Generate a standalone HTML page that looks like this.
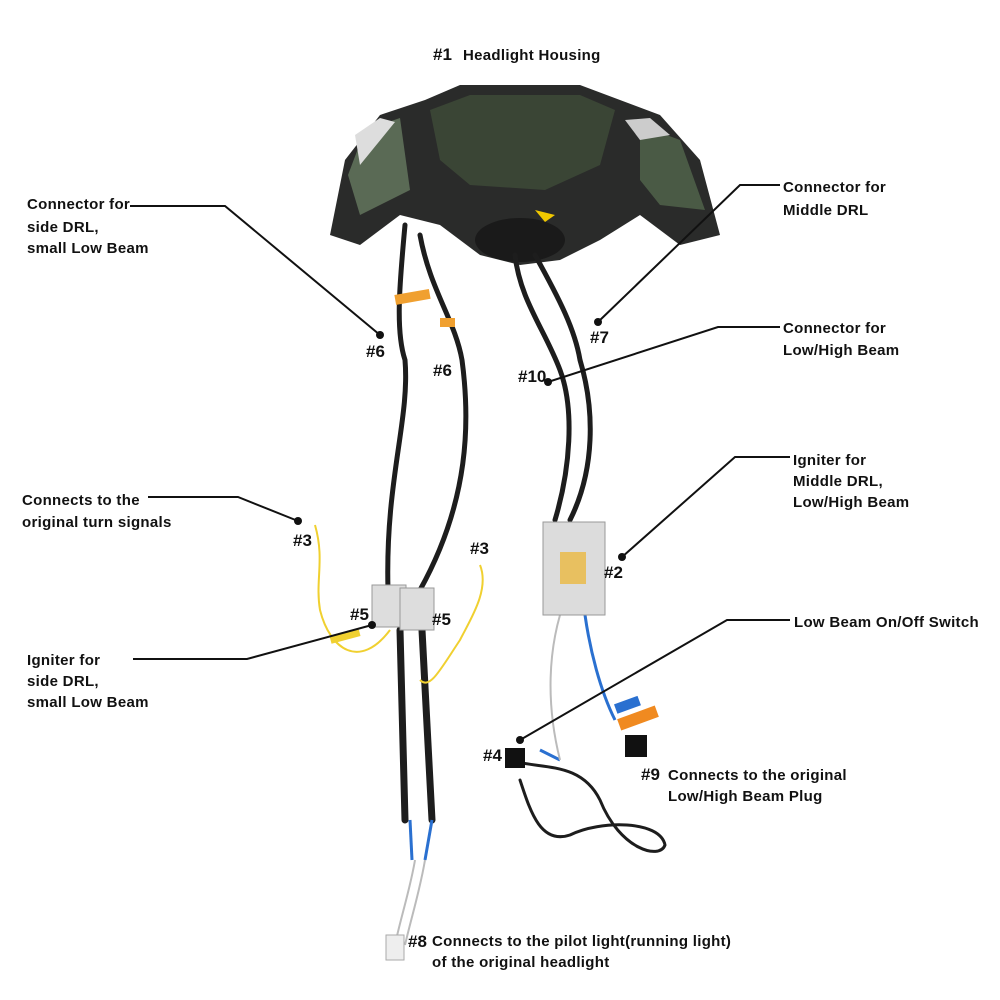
<!DOCTYPE html>
<html><head><meta charset="utf-8"><style>
html,body{margin:0;padding:0;background:#fff;}
svg{display:block;}
text{font-family:"Liberation Sans",Arial,sans-serif;font-weight:bold;fill:#111;font-size:15px;letter-spacing:0.3px;}
.n{font-size:17px;letter-spacing:0;}
</style></head><body>
<svg width="1000" height="1000" viewBox="0 0 1000 1000">
<!-- housing -->
<path d="M330 235 L345 160 L380 115 L425 100 L460 85 L580 85 L620 100 L660 115 L700 160 L720 235 L680 245 L640 215 L600 240 L560 260 L520 265 L480 255 L440 225 L400 215 L360 245 Z" fill="#2a2b2a"/>
<path d="M430 110 L470 95 L580 95 L615 110 L600 165 L545 190 L470 185 L440 160 Z" fill="#3a4535"/>
<path d="M348 175 L365 130 L400 118 L410 190 L360 215 Z" fill="#5a6a55"/>
<path d="M640 125 L680 140 L705 210 L660 205 L640 180 Z" fill="#4a5a45"/>
<path d="M355 135 L380 118 L395 122 L360 165 Z" fill="#ddd"/>
<path d="M625 120 L650 118 L670 135 L640 140 Z" fill="#ccc"/>
<ellipse cx="520" cy="240" rx="45" ry="22" fill="#1a1a1a"/>
<path d="M535 210 L555 215 L545 222 Z" fill="#f0c800"/>
<!-- wires -->
<g fill="none" stroke="#1d1d1d" stroke-width="5" stroke-linecap="round">
<path d="M405 225 C400 280 395 330 405 360 C410 420 385 480 388 590"/>
<path d="M420 235 C430 290 455 320 462 360 C470 420 470 500 420 590"/>
<path d="M515 255 C520 300 545 330 560 370 C575 410 570 470 555 520"/>
<path d="M535 255 C560 300 575 330 580 360 C595 410 595 470 570 520"/>
<path d="M400 630 L405 820" stroke-width="7"/>
<path d="M422 630 L432 820" stroke-width="7"/>
<path d="M510 760 C540 770 580 760 600 800 C620 850 660 860 665 845 C660 820 600 820 570 835 C540 845 530 810 520 780" stroke-width="3"/>
</g>
<g fill="none" stroke="#2a70d0" stroke-width="3">
<path d="M585 615 C590 650 600 690 615 720"/>
<path d="M540 750 L560 760"/>
<path d="M410 820 L412 860"/><path d="M432 820 L425 860"/>
</g>
<g fill="none" stroke="#bbb" stroke-width="2">
<path d="M560 615 C550 650 545 700 560 760"/>
<path d="M415 860 C410 890 400 920 395 945"/>
<path d="M425 860 C420 890 412 915 405 945"/>
</g>
<g fill="none" stroke="#f0d030" stroke-width="2">
<path d="M315 525 C325 560 315 580 320 610 C330 650 360 670 390 630"/>
<path d="M480 565 C490 590 470 620 460 640 C440 670 430 690 420 680"/>
</g>
<rect x="395" y="292" width="35" height="10" fill="#f0a030" transform="rotate(-10 412 297)"/>
<rect x="440" y="318" width="15" height="9" fill="#f0a030"/>
<rect x="615" y="700" width="25" height="10" fill="#2a70d0" transform="rotate(-20 627 705)"/>
<rect x="618" y="712" width="40" height="12" fill="#f08a20" transform="rotate(-20 638 718)"/>
<rect x="330" y="632" width="30" height="8" fill="#f0d030" transform="rotate(-15 345 636)"/>
<!-- igniters -->
<rect x="543" y="522" width="62" height="93" fill="#dcdcdc" stroke="#999"/>
<rect x="560" y="552" width="26" height="32" fill="#e8c060"/>
<rect x="372" y="585" width="34" height="42" fill="#ddd" stroke="#999"/>
<rect x="400" y="588" width="34" height="42" fill="#ddd" stroke="#999"/>
<rect x="505" y="748" width="20" height="20" fill="#111"/>
<rect x="625" y="735" width="22" height="22" fill="#111"/>
<rect x="386" y="935" width="18" height="25" fill="#eee" stroke="#aaa"/>
<!-- callouts -->
<g fill="none" stroke="#111" stroke-width="2">
<path d="M130 206 L225 206 L380 335"/>
<path d="M780 185 L740 185 L598 322"/>
<path d="M780 327 L718 327 L548 382"/>
<path d="M148 497 L238 497 L298 521"/>
<path d="M790 457 L735 457 L622 557"/>
<path d="M133 659 L247 659 L372 625"/>
<path d="M790 620 L727 620 L520 740"/>
</g>
<g fill="#111">
<circle cx="380" cy="335" r="4"/><circle cx="598" cy="322" r="4"/><circle cx="548" cy="382" r="4"/>
<circle cx="298" cy="521" r="4"/><circle cx="622" cy="557" r="4"/><circle cx="372" cy="625" r="4"/><circle cx="520" cy="740" r="4"/>
</g>
<text class="n" x="433" y="60">#1</text><text x="463" y="60">Headlight Housing</text>
<text x="27" y="209">Connector for</text>
<text x="27" y="232">side DRL,</text>
<text x="27" y="253">small Low Beam</text>
<text x="783" y="192">Connector for</text>
<text x="783" y="215">Middle DRL</text>
<text x="783" y="333">Connector for</text>
<text x="783" y="355">Low/High Beam</text>
<text x="22" y="505">Connects to the</text>
<text x="22" y="527">original turn signals</text>
<text x="793" y="465">Igniter for</text>
<text x="793" y="486">Middle DRL,</text>
<text x="793" y="507">Low/High Beam</text>
<text x="27" y="665">Igniter for</text>
<text x="27" y="686">side DRL,</text>
<text x="27" y="707">small Low Beam</text>
<text x="794" y="627">Low Beam On/Off Switch</text>
<text class="n" x="366" y="357">#6</text><text class="n" x="433" y="376">#6</text>
<text class="n" x="590" y="343">#7</text><text class="n" x="518" y="382">#10</text>
<text class="n" x="293" y="546">#3</text><text class="n" x="470" y="554">#3</text>
<text class="n" x="604" y="578">#2</text>
<text class="n" x="350" y="620">#5</text><text class="n" x="432" y="625">#5</text>
<text class="n" x="483" y="761">#4</text>
<text class="n" x="641" y="780">#9</text><text x="668" y="780">Connects to the original</text>
<text x="668" y="801">Low/High Beam Plug</text>
<text class="n" x="408" y="947">#8</text><text x="432" y="946">Connects to the pilot light(running light)</text>
<text x="432" y="967">of the original headlight</text>
</svg>
</body></html>
